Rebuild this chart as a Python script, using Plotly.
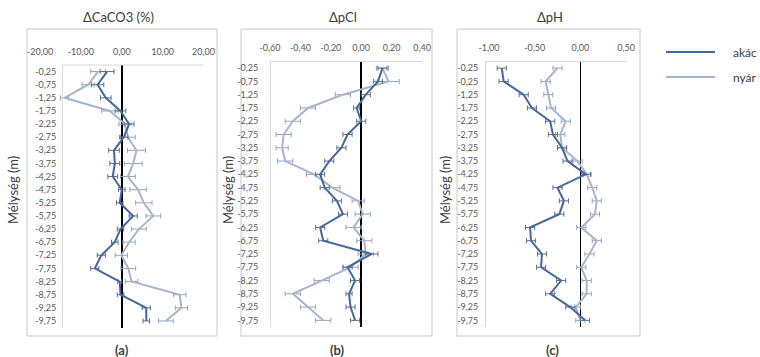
import plotly.graph_objects as go

# ---------------- data ----------------
depth = [-0.25, -0.75, -1.25, -1.75, -2.25, -2.75, -3.25, -3.75, -4.25, -4.75,
         -5.25, -5.75, -6.25, -6.75, -7.25, -7.75, -8.25, -8.75, -9.25, -9.75]
depth_labels = ["-0,25", "-0,75", "-1,25", "-1,75", "-2,25", "-2,75", "-3,25", "-3,75",
                "-4,25", "-4,75", "-5,25", "-5,75", "-6,25", "-6,75", "-7,25", "-7,75",
                "-8,25", "-8,75", "-9,25", "-9,75"]
depth_labels_c = ["-0,25", "-0,25", "-1,25", "-1,75", "-2,25", "-2,75", "-3,25", "-3,75",
                  "-4,25", "-4,75", "-5,25", "-5,75", "-6,25", "-6,75", "-7,25", "-7,75",
                  "-8,25", "-8,75", "-9,25", "-9,75"]

series_names = ["akác", "nyár"]

caco3_akac = [-3.6, -5.9, -3.9, -0.3, 1.8, 0.5, -1.9, -1.7, -2.2, 0.0,
              -0.5, 2.8, -0.3, -1.7, -5.0, -6.6, -0.5, -0.3, 6.0, 6.0]
caco3_akac_err = [1.7, 1.5, 1.3, 1.3, 1.2, 1.0, 1.3, 1.2, 1.2, 0.8,
                  0.8, 1.0, 0.8, 0.8, 1.0, 1.0, 0.5, 0.8, 1.0, 0.8]
caco3_nyar = [-5.8, -8.2, -14.0, -2.9, 0.8, 1.5, 3.6, 2.8, 1.5, 4.0,
              5.4, 7.7, 4.2, 1.8, -0.1, 1.6, 2.4, 14.2, 14.6, 10.8]
caco3_nyar_err = [1.8, 1.5, 1.0, 2.0, 1.5, 1.8, 2.2, 2.2, 1.8, 2.0,
                  2.0, 1.8, 1.8, 1.5, 1.5, 1.8, 1.5, 1.5, 1.5, 1.8]

pcl_akac = [0.14, 0.11, 0.03, -0.03, 0.0, -0.09, -0.13, -0.21, -0.27, -0.24,
            -0.16, -0.12, -0.27, -0.25, 0.07, -0.09, -0.04, -0.08, -0.07, -0.04]
pcl_akac_err = [0.03, 0.03, 0.03, 0.02, 0.03, 0.03, 0.03, 0.03, 0.03, 0.03,
                0.03, 0.03, 0.03, 0.03, 0.04, 0.03, 0.03, 0.02, 0.03, 0.03]
pcl_nyar = [0.14, 0.18, -0.12, -0.35, -0.45, -0.51, -0.52, -0.50, -0.31, -0.19,
            -0.02, 0.01, -0.05, 0.02, 0.03, -0.07, -0.26, -0.45, -0.35, -0.25]
pcl_nyar_err = [0.04, 0.07, 0.05, 0.05, 0.05, 0.05, 0.04, 0.05, 0.05, 0.05,
                0.04, 0.05, 0.05, 0.05, 0.05, 0.05, 0.05, 0.05, 0.05, 0.05]

ph_akac = [-0.86, -0.84, -0.62, -0.53, -0.33, -0.30, -0.20, -0.14, 0.06, -0.25,
           -0.18, -0.23, -0.55, -0.54, -0.42, -0.43, -0.21, -0.33, -0.11, 0.05]
ph_akac_err = [0.05] * 20
ph_nyar = [-0.25, -0.38, -0.35, -0.32, -0.16, -0.22, -0.20, -0.03, 0.07, 0.13,
           0.18, 0.16, 0.01, 0.18, 0.10, 0.01, 0.07, 0.07, -0.05, 0.00]
ph_nyar_err = [0.05] * 20

xt_a_vals = [-20, -10, 0, 10, 20]
xt_a_text = ["-20,00", "-10,00", "0,00", "10,00", "20,00"]
xt_b_vals = [-0.6, -0.4, -0.2, 0.0, 0.2, 0.4]
xt_b_text = ["-0,60", "-0,40", "-0,20", "0,00", "0,20", "0,40"]
xt_c_vals = [-1.0, -0.5, 0.0, 0.5]
xt_c_text = ["-1,00", "-0,50", "0,00", "0,50"]

titles = ["ΔCaCO3 (%)", "ΔpCl", "ΔpH"]
panel_tags = ["(a)", "(b)", "(c)"]
y_title = "Mélység (m)"

# ---------------- styling ----------------
W, H = 760, 357
def fx(px):
    return px / W
def fy(py):
    return 1 - py / H

DARK = "#44699B"
LIGHT = "#A6B6CD"
DARK_ERR = "#5E708C"
LIGHT_ERR = "#98A4B6"
FONT = "Lato, 'Open Sans', sans-serif"
TXT = "#404040"
TICK = "#595959"
FRAME = "#C8C8C8"
AXL = "#D9D9D9"

fig = go.Figure()

panels = [
    (caco3_akac, caco3_akac_err, caco3_nyar, caco3_nyar_err),
    (pcl_akac, pcl_akac_err, pcl_nyar, pcl_nyar_err),
    (ph_akac, ph_akac_err, ph_nyar, ph_nyar_err),
]

for i, (da, dae, dn, dne) in enumerate(panels):
    suffix = "" if i == 0 else str(i + 1)
    for vals, errs, col, ecol, name in [(dn, dne, LIGHT, LIGHT_ERR, series_names[1]),
                                         (da, dae, DARK, DARK_ERR, series_names[0])]:
        fig.add_trace(go.Scatter(
            x=vals, y=depth, mode="lines", name=name,
            line=dict(color=col, width=2),
            error_x=dict(type="data", array=errs, visible=True,
                         color=ecol, thickness=1, width=2.5),
            xaxis="x" + suffix, yaxis="y" + suffix, showlegend=False,
        ))

# geometry per panel (pixel positions)
geo = [
    dict(xl=40, xr=203.5, yaxis_px=62, top=65, bot=327.5, rng=[-20, 20],
         tv=xt_a_vals, tt=xt_a_text, ylab=depth_labels, ystand=4, xstand=7,
         frame=(27, 29, 217, 336), tx=118, ttl_y=17, mel_x=13, tag_x=122),
    dict(xl=270, xr=422, yaxis_px=270, top=61.5, bot=327, rng=[-0.6, 0.4],
         tv=xt_b_vals, tt=xt_b_text, ylab=depth_labels, ystand=10, xstand=8,
         frame=(241, 29, 432, 336), tx=343, ttl_y=17, mel_x=228, tag_x=337),
    dict(xl=489, xr=626, yaxis_px=485, top=61.5, bot=327, rng=[-1.0, 0.5],
         tv=xt_c_vals, tt=xt_c_text, ylab=depth_labels_c, ystand=5, xstand=8,
         frame=(457, 29, 640, 336), tx=550, ttl_y=17, mel_x=445, tag_x=552),
]

layout = dict(
    template="none",
    width=W, height=H, autosize=False, margin=dict(l=0, r=0, t=0, b=0, pad=0),
    paper_bgcolor="white", plot_bgcolor="rgba(0,0,0,0)",
    showlegend=False, font=dict(family=FONT, color=TXT),
)
shapes = []
annotations = []
for i, g in enumerate(geo):
    suffix = "" if i == 0 else str(i + 1)
    layout["xaxis" + suffix] = dict(
        domain=[fx(g["xl"]), fx(g["xr"])], range=g["rng"], side="top",
        anchor="y" + suffix, tickvals=g["tv"], ticktext=g["tt"],
        showgrid=False, showline=False, ticks="", automargin=False,
        zeroline=True, zerolinecolor="black", zerolinewidth=1.6,
        tickfont=dict(size=9, color=TICK, family=FONT),
        ticklabelstandoff=g["xstand"], fixedrange=True,
    )
    layout["yaxis" + suffix] = dict(
        domain=[fy(g["bot"]), fy(g["top"])], range=[-10, 0],
        anchor="free", position=fx(g["yaxis_px"]), automargin=False,
        tickvals=depth, ticktext=g["ylab"],
        showgrid=False, zeroline=False, showline=True, linecolor=AXL, linewidth=1,
        ticks="", tickfont=dict(size=9, color=TICK, family=FONT),
        ticklabelstandoff=g["ystand"], fixedrange=True,
    )
    # top axis line
    shapes.append(dict(type="line", xref="paper", yref="paper",
                       x0=fx(g["yaxis_px"]), x1=fx(g["xr"]), y0=fy(g["top"]), y1=fy(g["top"]),
                       line=dict(color=AXL, width=1)))
    # chart frame
    x0, y0, x1, y1 = g["frame"]
    shapes.append(dict(type="rect", xref="paper", yref="paper",
                       x0=fx(x0), x1=fx(x1), y0=fy(y1), y1=fy(y0),
                       line=dict(color=FRAME, width=1), fillcolor="rgba(0,0,0,0)", layer="below"))
    annotations.append(dict(text=titles[i], xref="paper", yref="paper",
                            x=fx(g["tx"]), y=fy(g["ttl_y"]), showarrow=False,
                            xanchor="center", yanchor="middle",
                            font=dict(size=13, color=TXT, family=FONT)))
    annotations.append(dict(text=y_title, xref="paper", yref="paper", textangle=-90,
                            x=fx(g["mel_x"]), y=fy(190), showarrow=False,
                            xanchor="center", yanchor="middle",
                            font=dict(size=13, color=TXT, family=FONT)))
    annotations.append(dict(text="<b>" + panel_tags[i] + "</b>", xref="paper", yref="paper",
                            x=fx(g["tag_x"]), y=fy(350), showarrow=False,
                            xanchor="center", yanchor="middle",
                            font=dict(size=13, color=TXT, family=FONT)))

# legend (drawn manually to match the long line samples)
for name, col, py in [(series_names[0], DARK, 52), (series_names[1], LIGHT, 77)]:
    shapes.append(dict(type="line", xref="paper", yref="paper",
                       x0=fx(666), x1=fx(715), y0=fy(py), y1=fy(py),
                       line=dict(color=col, width=2)))
    annotations.append(dict(text=name, xref="paper", yref="paper",
                            x=fx(731), y=fy(py), xanchor="left", yanchor="middle",
                            showarrow=False,
                            font=dict(size=12, color=TXT, family=FONT)))

layout["shapes"] = shapes
layout["annotations"] = annotations
fig.update_layout(**layout)

fig.write_html("out.html",
               config={"displayModeBar": False, "staticPlot": True},
               post_script="document.body.style.margin='0';document.body.style.overflow='hidden';")
